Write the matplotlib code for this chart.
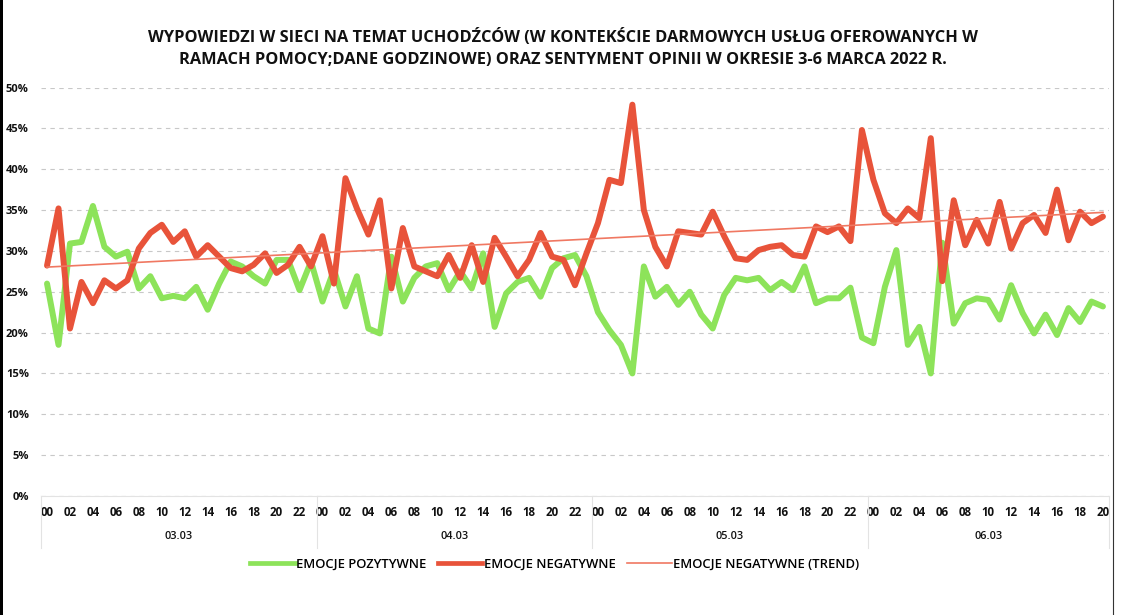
import numpy as np
import matplotlib
matplotlib.use("Agg")
import matplotlib.pyplot as plt
from matplotlib.lines import Line2D
from matplotlib.patches import Rectangle
from matplotlib.ticker import FuncFormatter

plt.rcParams["font.family"] = ["Open Sans", "DejaVu Sans"]

TITLE = ("WYPOWIEDZI W SIECI NA TEMAT UCHODŹCÓW (W KONTEKŚCIE DARMOWYCH USŁUG OFEROWANYCH W\n"
         "RAMACH POMOCY;DANE GODZINOWE) ORAZ SENTYMENT OPINII W OKRESIE 3-6 MARCA 2022 R.")

DAYS = ["03.03", "04.03", "05.03", "06.03"]
HOURS_PER_DAY = [24, 24, 24, 21]

# hourly share of opinions, %
POSITIVE = [
    26.0, 18.5, 30.9, 31.1, 35.5, 30.5, 29.3, 29.9, 25.4, 26.9, 24.2, 24.5,
    24.2, 25.6, 22.8, 26.0, 28.7, 28.1, 26.9, 26.0, 28.9, 28.9, 25.2, 28.7,
    23.8, 27.7, 23.2, 26.9, 20.5, 19.9, 29.3, 23.8, 26.7, 28.1, 28.5, 25.2,
    27.5, 25.4, 29.7, 20.7, 24.8, 26.2, 26.7, 24.4, 27.9, 29.1, 29.5, 26.9,
    22.5, 20.3, 18.5, 15.0, 28.1, 24.4, 25.6, 23.4, 25.0, 22.2, 20.5, 24.6,
    26.7, 26.4, 26.7, 25.2, 26.2, 25.2, 28.1, 23.6, 24.2, 24.2, 25.5, 19.4,
    18.7, 25.6, 30.1, 18.5, 20.7, 15.0, 31.0, 21.1, 23.6, 24.2, 24.0, 21.6,
    25.8, 22.4, 19.9, 22.2, 19.7, 23.0, 21.3, 23.8, 23.2,
]
NEGATIVE = [
    28.2, 35.2, 20.5, 26.2, 23.6, 26.4, 25.4, 26.4, 30.3, 32.2, 33.2, 31.1,
    32.4, 29.3, 30.7, 29.3, 27.9, 27.5, 28.3, 29.7, 27.3, 28.3, 30.5, 28.1,
    31.8, 26.0, 38.9, 35.2, 32.0, 36.2, 25.4, 32.8, 28.1, 27.5, 26.9, 29.5,
    26.7, 30.7, 26.2, 31.6, 29.3, 26.9, 28.9, 32.2, 29.3, 28.9, 25.8, 29.7,
    33.4, 38.7, 38.3, 47.9, 35.0, 30.5, 28.1, 32.4, 32.2, 32.0, 34.8, 31.8,
    29.1, 28.9, 30.1, 30.5, 30.7, 29.5, 29.3, 33.0, 32.3, 33.0, 31.2, 44.8,
    38.7, 34.6, 33.4, 35.2, 34.0, 43.8, 26.3, 36.2, 30.7, 33.8, 30.9, 36.0,
    30.3, 33.4, 34.4, 32.2, 37.5, 31.3, 34.8, 33.4, 34.2,
]

GREEN = "#8de35a"
RED = "#e8533a"
TREND = "#f07862"
TXT = "#111111"

x = np.arange(len(POSITIVE))
coef = np.polyfit(x, NEGATIVE, 1)
trend = np.polyval(coef, x)

fig = plt.figure(figsize=(11.25, 6.15), dpi=100)
ax = fig.add_axes([0.0367, 0.1935, 0.9488, 0.6642])

ax.plot(x, POSITIVE, color=GREEN, lw=4.3, solid_joinstyle="round",
        solid_capstyle="round", label="EMOCJE POZYTYWNE", zorder=3)
ax.plot(x, NEGATIVE, color=RED, lw=4.3, solid_joinstyle="round",
        solid_capstyle="round", label="EMOCJE NEGATYWNE", zorder=4)
ax.plot(x, trend, color=TREND, lw=1.2, label="EMOCJE NEGATYWNE (TREND)", zorder=5)

ax.set_xlim(-0.5, len(x) - 0.5)
ax.set_ylim(0, 50)
ax.set_yticks(np.arange(0, 51, 5))
ax.yaxis.set_major_formatter(FuncFormatter(lambda v, _: f"{v:.0f}%"))
ax.grid(axis="y", color="#c8c8c8", ls=(0, (4, 4)), lw=0.8)
ax.set_axisbelow(True)
for s in ("top", "right", "left"):
    ax.spines[s].set_visible(False)
ax.spines["bottom"].set_color("#e3e3e3")
ax.tick_params(axis="y", length=0, pad=9, labelsize=8, labelcolor=TXT)
ax.tick_params(axis="x", length=0, pad=7, labelsize=8.3, labelcolor=TXT)

# two-level category axis: hour labels, then day labels
ticks, labels = [], []
start = 0
bounds = [-0.5]
for day, n in zip(DAYS, HOURS_PER_DAY):
    for h in range(0, n, 2):
        ticks.append(start + h)
        labels.append(f"{h:02d}")
    ax.text(start + (n - 1) / 2, -0.098, day, transform=ax.get_xaxis_transform(),
            ha="center", va="center", fontsize=7.8, color=TXT, fontweight="semibold")
    start += n
    bounds.append(start - 0.5)
ax.set_xticks(ticks)
ax.set_xticklabels(labels, fontweight="bold")
for lab in ax.get_yticklabels():
    lab.set_fontweight("bold")
for b in bounds:
    ax.axvline(b, ymin=-0.127, ymax=0, color="#e3e3e3", lw=0.8, clip_on=False)

fig.text(0.5, 0.921, TITLE, ha="center", va="center", fontsize=11.8,
         fontweight="bold", color=TXT, linespacing=1.55)

handles = [
    Line2D([], [], color=GREEN, lw=3.4),
    Line2D([], [], color=RED, lw=3.4),
    Line2D([], [], color=TREND, lw=1.2),
]
fig.legend(handles, ["EMOCJE POZYTYWNE", "EMOCJE NEGATYWNE", "EMOCJE NEGATYWNE (TREND)"],
           loc="center", bbox_to_anchor=(0.493, 0.083), ncol=3, frameon=False,
           handlelength=3.4, handletextpad=0.1, columnspacing=0.9,
           prop={"size": 9.4, "weight": "semibold"})

# frame edges seen in the source screenshot
fig.add_artist(Rectangle((0, 0), 3 / 1125, 1, transform=fig.transFigure,
                         color="black", lw=0))
fig.add_artist(Line2D([1113 / 1125, 1113 / 1125], [0, 1], transform=fig.transFigure,
                      color="#333333", lw=0.8))

fig.savefig("out.png", dpi=100, facecolor="white")
plt.close(fig)
